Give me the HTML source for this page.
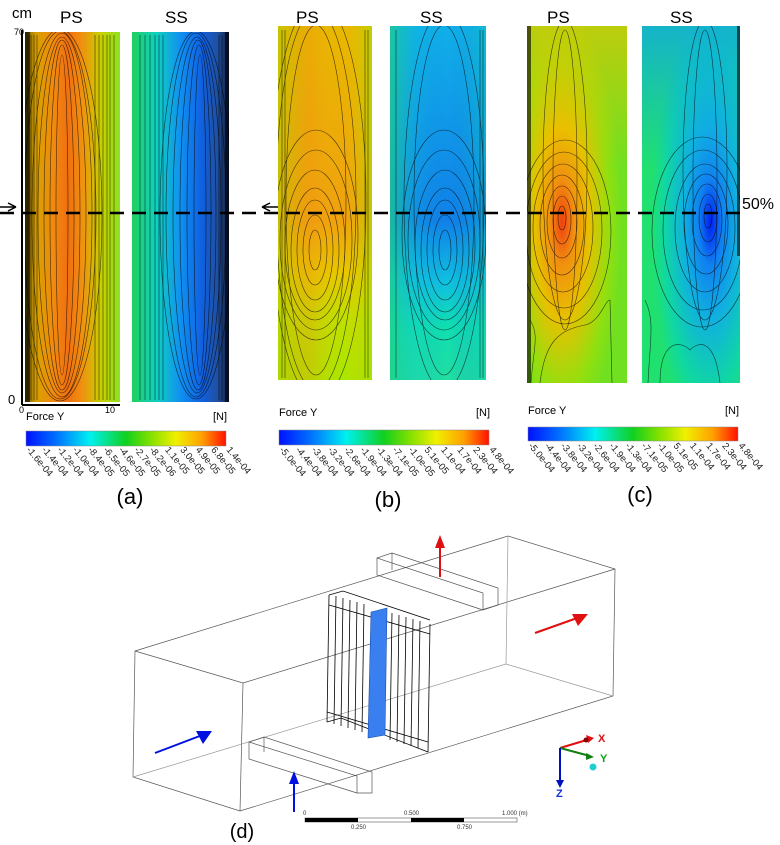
<!DOCTYPE html>
<html><head><meta charset="utf-8"><style>
html,body{margin:0;padding:0;background:#fff;}
svg{display:block;font-family:"Liberation Sans",sans-serif;}
</style></head><body>
<svg width="780" height="845" viewBox="0 0 780 845" xmlns="http://www.w3.org/2000/svg">
<defs>
<linearGradient id="cb" x1="0" x2="1" y1="0" y2="0">
<stop offset="0" stop-color="#0010ff"/><stop offset="0.15" stop-color="#0070ff"/><stop offset="0.32" stop-color="#00f0f0"/><stop offset="0.5" stop-color="#10d020"/><stop offset="0.62" stop-color="#80e000"/><stop offset="0.75" stop-color="#f0f000"/><stop offset="0.88" stop-color="#ffa000"/><stop offset="1" stop-color="#ff1000"/>
</linearGradient>
<linearGradient id="aPS" x1="0" x2="1"><stop offset="0" stop-color="#6a5a00"/><stop offset="0.12" stop-color="#d8a000"/><stop offset="0.3" stop-color="#f08a10"/><stop offset="0.45" stop-color="#f07010"/><stop offset="0.6" stop-color="#f09010"/><stop offset="0.8" stop-color="#c8d000"/><stop offset="1" stop-color="#90e020"/></linearGradient>
<linearGradient id="aSS" x1="0" x2="1"><stop offset="0" stop-color="#20d060"/><stop offset="0.25" stop-color="#10d0c0"/><stop offset="0.5" stop-color="#1090f0"/><stop offset="0.72" stop-color="#1060e0"/><stop offset="0.88" stop-color="#2050a0"/><stop offset="1" stop-color="#102040"/></linearGradient>
<linearGradient id="bPSv" x1="0" x2="0" y1="0" y2="1"><stop offset="0" stop-color="#e8b800"/><stop offset="0.55" stop-color="#f0a010"/><stop offset="0.7" stop-color="#e8c800"/><stop offset="0.82" stop-color="#c0e000"/><stop offset="1" stop-color="#a8e800"/></linearGradient>
<linearGradient id="bPSh" x1="0" x2="1"><stop offset="0" stop-color="#b0d000" stop-opacity="0.6"/><stop offset="0.35" stop-color="#f09010" stop-opacity="0.3"/><stop offset="0.7" stop-color="#e8c000" stop-opacity="0"/><stop offset="1" stop-color="#a0e000" stop-opacity="0.6"/></linearGradient>
<linearGradient id="bSSv" x1="0" x2="0" y1="0" y2="1"><stop offset="0" stop-color="#10b0e8"/><stop offset="0.55" stop-color="#1080e8"/><stop offset="0.72" stop-color="#10c0e0"/><stop offset="0.85" stop-color="#10e0b0"/><stop offset="1" stop-color="#20e0a0"/></linearGradient>
<linearGradient id="bSSh" x1="0" x2="1"><stop offset="0" stop-color="#20d080" stop-opacity="0.7"/><stop offset="0.3" stop-color="#10c0d0" stop-opacity="0.2"/><stop offset="0.6" stop-color="#1070e0" stop-opacity="0"/><stop offset="1" stop-color="#10d0b0" stop-opacity="0.4"/></linearGradient>
<radialGradient id="cPS" cx="0.35" cy="0.55" r="0.6"><stop offset="0" stop-color="#f04010"/><stop offset="0.2" stop-color="#f09010"/><stop offset="0.45" stop-color="#e8c000"/><stop offset="0.8" stop-color="#90e010"/><stop offset="1" stop-color="#70e020"/></radialGradient>
<radialGradient id="cSS" cx="0.7" cy="0.55" r="0.6"><stop offset="0" stop-color="#0020f0"/><stop offset="0.2" stop-color="#1080f0"/><stop offset="0.45" stop-color="#10b0e0"/><stop offset="0.8" stop-color="#10d8a0"/><stop offset="1" stop-color="#20e070"/></radialGradient>
<linearGradient id="cPSv" x1="0" x2="0" y1="0" y2="1"><stop offset="0" stop-color="#f0c000" stop-opacity="0.6"/><stop offset="0.4" stop-color="#f0c000" stop-opacity="0"/></linearGradient>
<linearGradient id="cSSv" x1="0" x2="0" y1="0" y2="1"><stop offset="0" stop-color="#10a0f0" stop-opacity="0.7"/><stop offset="0.4" stop-color="#10a0f0" stop-opacity="0"/></linearGradient>
<clipPath id="kaP"><rect x="25" y="32" width="95" height="370"/></clipPath>
<clipPath id="kaS"><rect x="132" y="32" width="97" height="370"/></clipPath>
<clipPath id="kbP"><rect x="278" y="26" width="94" height="354"/></clipPath>
<clipPath id="kbS"><rect x="390" y="26" width="96" height="354"/></clipPath>
<clipPath id="kcP"><rect x="527" y="26" width="100" height="357"/></clipPath>
<clipPath id="kcS"><rect x="642" y="26" width="98" height="357"/></clipPath>
</defs>

<!-- Panel (a) -->
<text x="12" y="18" font-size="15">cm</text>
<text x="14" y="35" font-size="9">70</text>
<text x="8" y="404" font-size="13">0</text>
<line x1="22" y1="30" x2="22" y2="405" stroke="#000" stroke-width="2"/>
<line x1="22" y1="405" x2="120" y2="405" stroke="#000" stroke-width="2"/>
<text x="19" y="413" font-size="9">0</text><text x="105" y="413" font-size="9">10</text>
<text x="60" y="23" font-size="17">PS</text><text x="165" y="23" font-size="17">SS</text>
<rect x="25" y="32" width="95" height="370" fill="url(#aPS)"/>
<rect x="132" y="32" width="97" height="370" fill="url(#aSS)"/>
<g fill="none" stroke="#000" stroke-width="0.6" opacity="0.7" clip-path="url(#kaP)">
<ellipse cx="62" cy="215" rx="6" ry="160"/><ellipse cx="62" cy="215" rx="12" ry="170"/><ellipse cx="62" cy="215" rx="18" ry="175"/><ellipse cx="62" cy="215" rx="24" ry="178"/><ellipse cx="62" cy="215" rx="30" ry="182"/><ellipse cx="60" cy="215" rx="36" ry="184"/><ellipse cx="60" cy="215" rx="42" ry="186"/>
<line x1="28" y1="35" x2="28" y2="400"/><line x1="31" y1="35" x2="31" y2="400"/><line x1="34" y1="35" x2="34" y2="400"/><line x1="37" y1="35" x2="37" y2="400"/><line x1="95" y1="35" x2="95" y2="400"/><line x1="99" y1="35" x2="99" y2="400"/><line x1="103" y1="35" x2="103" y2="400"/><line x1="107" y1="35" x2="107" y2="400"/><line x1="110" y1="35" x2="110" y2="400"/><line x1="114" y1="35" x2="114" y2="400"/>
</g>
<g fill="none" stroke="#000" stroke-width="0.6" opacity="0.7" clip-path="url(#kaS)">
<ellipse cx="200" cy="215" rx="6" ry="160"/><ellipse cx="199" cy="215" rx="12" ry="170"/><ellipse cx="198" cy="215" rx="18" ry="175"/><ellipse cx="197" cy="215" rx="24" ry="178"/><ellipse cx="196" cy="215" rx="30" ry="182"/><ellipse cx="196" cy="215" rx="36" ry="184"/>
<line x1="140" y1="35" x2="140" y2="400"/><line x1="145" y1="35" x2="145" y2="400"/><line x1="150" y1="35" x2="150" y2="400"/><line x1="155" y1="35" x2="155" y2="400"/><line x1="159" y1="35" x2="159" y2="400"/><line x1="163" y1="35" x2="163" y2="400"/><line x1="219" y1="35" x2="219" y2="400"/><line x1="222" y1="35" x2="222" y2="400"/>
</g>
<rect x="25" y="32" width="5" height="370" fill="#000" opacity="0.6"/>
<rect x="225" y="32" width="4" height="370" fill="#000" opacity="0.6"/>

<!-- Panel (b) -->
<text x="296" y="23" font-size="17">PS</text><text x="420" y="23" font-size="17">SS</text>
<rect x="278" y="26" width="94" height="354" fill="url(#bPSv)"/>
<rect x="278" y="26" width="94" height="354" fill="url(#bPSh)"/>
<rect x="390" y="26" width="96" height="354" fill="url(#bSSv)"/>
<rect x="390" y="26" width="96" height="354" fill="url(#bSSh)"/>
<g fill="none" stroke="#000" stroke-width="0.6" opacity="0.7" clip-path="url(#kbP)">
<ellipse cx="315" cy="250" rx="6" ry="20"/><ellipse cx="315" cy="250" rx="12" ry="35"/><ellipse cx="315" cy="250" rx="18" ry="50"/><ellipse cx="315" cy="250" rx="24" ry="62"/><ellipse cx="315" cy="245" rx="30" ry="75"/><ellipse cx="316" cy="240" rx="36" ry="90"/><ellipse cx="316" cy="235" rx="42" ry="105"/><ellipse cx="316" cy="200" rx="30" ry="175"/><ellipse cx="316" cy="200" rx="40" ry="190"/><ellipse cx="318" cy="200" rx="48" ry="200"/>
<line x1="282" y1="30" x2="282" y2="378"/><line x1="285" y1="30" x2="285" y2="378"/><line x1="365" y1="30" x2="365" y2="378"/><line x1="368" y1="30" x2="368" y2="378"/>
</g>
<g fill="none" stroke="#000" stroke-width="0.6" opacity="0.7" clip-path="url(#kbS)">
<ellipse cx="445" cy="250" rx="6" ry="20"/><ellipse cx="445" cy="250" rx="12" ry="35"/><ellipse cx="445" cy="250" rx="18" ry="50"/><ellipse cx="445" cy="250" rx="24" ry="62"/><ellipse cx="445" cy="245" rx="30" ry="75"/><ellipse cx="444" cy="240" rx="36" ry="90"/><ellipse cx="444" cy="235" rx="42" ry="105"/><ellipse cx="444" cy="200" rx="30" ry="175"/><ellipse cx="444" cy="200" rx="40" ry="190"/>
<line x1="396" y1="30" x2="396" y2="378"/><line x1="480" y1="30" x2="480" y2="378"/><line x1="483" y1="30" x2="483" y2="378"/>
</g>

<!-- Panel (c) -->
<text x="547" y="23" font-size="17">PS</text><text x="670" y="23" font-size="17">SS</text>
<rect x="527" y="26" width="100" height="357" fill="url(#cPS)"/>
<rect x="527" y="26" width="100" height="357" fill="url(#cPSv)"/>
<rect x="642" y="26" width="98" height="357" fill="url(#cSS)"/>
<rect x="642" y="26" width="98" height="357" fill="url(#cSSv)"/>
<g fill="none" stroke="#000" stroke-width="0.6" opacity="0.7" clip-path="url(#kcP)">
<ellipse cx="562" cy="218" rx="4" ry="12"/><ellipse cx="562" cy="220" rx="9" ry="24"/><ellipse cx="562" cy="222" rx="15" ry="36"/><ellipse cx="562" cy="225" rx="22" ry="50"/><ellipse cx="563" cy="228" rx="30" ry="64"/><ellipse cx="564" cy="230" rx="38" ry="78"/><ellipse cx="565" cy="232" rx="46" ry="92"/><ellipse cx="565" cy="180" rx="12" ry="150"/><ellipse cx="565" cy="170" rx="22" ry="150"/>
<path d="M540 383 C545 340 560 330 585 325 C600 322 605 300 610 300 L612 383"/>
<path d="M531 383 C533 350 540 335 530 320"/>
</g>
<g fill="none" stroke="#000" stroke-width="0.6" opacity="0.7" clip-path="url(#kcS)">
<ellipse cx="708" cy="216" rx="4" ry="12"/><ellipse cx="708" cy="218" rx="9" ry="24"/><ellipse cx="707" cy="220" rx="15" ry="36"/><ellipse cx="706" cy="224" rx="22" ry="50"/><ellipse cx="705" cy="228" rx="30" ry="64"/><ellipse cx="703" cy="230" rx="40" ry="80"/><ellipse cx="702" cy="232" rx="50" ry="95"/><ellipse cx="705" cy="180" rx="12" ry="150"/><ellipse cx="705" cy="170" rx="22" ry="150"/>
<path d="M660 383 C660 340 680 340 690 350 C700 340 715 340 720 383"/>
<path d="M648 383 C650 340 655 320 645 300"/>
</g>
<rect x="527" y="26" width="4" height="357" fill="#000" opacity="0.6"/>
<rect x="737" y="26" width="3" height="230" fill="#000" opacity="0.6"/>

<!-- dashed line -->
<line x1="0" y1="213" x2="740" y2="213" stroke="#000" stroke-width="2.5" stroke-dasharray="14,8"/>
<text x="742" y="209" font-size="16">50%</text>
<path d="M0 207 L16 207 M16 207 L8 203 M16 207 L8 211" stroke="#000" stroke-width="1.5" fill="none"/>
<path d="M262 207 L278 207 M262 207 L270 203 M262 207 L270 211" stroke="#000" stroke-width="1.5" fill="none"/>

<!-- colorbars -->
<text x="26" y="420" font-size="11">Force Y</text><text x="213" y="420" font-size="11">[N]</text>
<rect x="26" y="431" width="200" height="15" fill="url(#cb)" stroke="#888" stroke-width="0.5"/>
<text x="279" y="416" font-size="11">Force Y</text><text x="476" y="416" font-size="11">[N]</text>
<rect x="279" y="430" width="210" height="15" fill="url(#cb)" stroke="#888" stroke-width="0.5"/>
<text x="528" y="414" font-size="11">Force Y</text><text x="725" y="414" font-size="11">[N]</text>
<rect x="528" y="427" width="210" height="14" fill="url(#cb)" stroke="#888" stroke-width="0.5"/>
<g font-size="9.5" fill="#222">
<g transform="translate(26,450)">
<text transform="translate(0,0) rotate(50)">-1.6e-04</text><text transform="translate(15.4,0) rotate(50)">-1.4e-04</text><text transform="translate(30.8,0) rotate(50)">-1.2e-04</text><text transform="translate(46.2,0) rotate(50)">-1.0e-04</text><text transform="translate(61.5,0) rotate(50)">-8.4e-05</text><text transform="translate(76.9,0) rotate(50)">-6.5e-05</text><text transform="translate(92.3,0) rotate(50)">-4.6e-05</text><text transform="translate(107.7,0) rotate(50)">-2.7e-05</text><text transform="translate(123,0) rotate(50)">-8.2e-06</text><text transform="translate(138.5,0) rotate(50)">1.1e-05</text><text transform="translate(153.8,0) rotate(50)">3.0e-05</text><text transform="translate(169.2,0) rotate(50)">4.9e-05</text><text transform="translate(184.6,0) rotate(50)">6.8e-05</text><text transform="translate(200,0) rotate(50)">1.4e-04</text>
</g>
<g transform="translate(279,450)">
<text transform="translate(0,0) rotate(50)">-5.0e-04</text><text transform="translate(16.2,0) rotate(50)">-4.4e-04</text><text transform="translate(32.3,0) rotate(50)">-3.8e-04</text><text transform="translate(48.5,0) rotate(50)">-3.2e-04</text><text transform="translate(64.6,0) rotate(50)">-2.6e-04</text><text transform="translate(80.8,0) rotate(50)">-1.9e-04</text><text transform="translate(96.9,0) rotate(50)">-1.3e-04</text><text transform="translate(113,0) rotate(50)">-7.1e-05</text><text transform="translate(129,0) rotate(50)">-1.0e-05</text><text transform="translate(145,0) rotate(50)">5.1e-05</text><text transform="translate(161.5,0) rotate(50)">1.1e-04</text><text transform="translate(177.7,0) rotate(50)">1.7e-04</text><text transform="translate(193.8,0) rotate(50)">2.3e-04</text><text transform="translate(210,0) rotate(50)">4.8e-04</text>
</g>
<g transform="translate(528,446)">
<text transform="translate(0,0) rotate(50)">-5.0e-04</text><text transform="translate(16.2,0) rotate(50)">-4.4e-04</text><text transform="translate(32.3,0) rotate(50)">-3.8e-04</text><text transform="translate(48.5,0) rotate(50)">-3.2e-04</text><text transform="translate(64.6,0) rotate(50)">-2.6e-04</text><text transform="translate(80.8,0) rotate(50)">-1.9e-04</text><text transform="translate(96.9,0) rotate(50)">-1.3e-04</text><text transform="translate(113,0) rotate(50)">-7.1e-05</text><text transform="translate(129,0) rotate(50)">-1.0e-05</text><text transform="translate(145,0) rotate(50)">5.1e-05</text><text transform="translate(161.5,0) rotate(50)">1.1e-04</text><text transform="translate(177.7,0) rotate(50)">1.7e-04</text><text transform="translate(193.8,0) rotate(50)">2.3e-04</text><text transform="translate(210,0) rotate(50)">4.8e-04</text>
</g>
</g>
<text x="130" y="504" font-size="22" text-anchor="middle">(a)</text>
<text x="388" y="507" font-size="22" text-anchor="middle">(b)</text>
<text x="640" y="502" font-size="22" text-anchor="middle">(c)</text>

<!-- Panel (d) -->
<g stroke="#555" stroke-width="0.7" fill="none">
<path d="M135 651 L508 536 L615 569 L613 696 L240 811 L133 777 Z"/>
<path d="M135 651 L243 683 L615 569"/>
<path d="M243 683 L240 811"/>
<path d="M508 536 L506 664 L133 777" stroke="#999"/>
<path d="M506 664 L613 696" stroke="#999"/>
<path d="M377 558 L392 553 L498 588 L498 605 L483 610 L483 593 L377 558 L377 575 L483 610"/>
<path d="M392 553 L392 570"/>
<path d="M249 742 L264 737 L372 772 L372 793 L357 793 L357 776 L249 742 L249 759 L357 793"/>
<path d="M264 737 L264 752"/>
</g>
<g stroke="#000" stroke-width="0.8" fill="none">
<path d="M329 595 L327 722 M336 596 L334 724 M343 598 L341 726 M350 600 L348 728 M357 602 L355 730 M364 604 L362 732 M392 613 L390 740 M399 615 L397 742 M406 617 L404 744 M413 619 L411 746 M420 621 L418 748 M430 624 L428 752"/>
<path d="M329 595 L343 591 L430 620 M327 722 L341 718 L428 752 M329 605 L430 634 M327 712 L428 742"/>
</g>
<polygon points="371,612 387,608 385,735 368,738" fill="#3a7ff0" stroke="#1a4fb0" stroke-width="0.6"/>
<g stroke-width="2" fill="none">
<path d="M155 753 L205 734" stroke="#0010e0"/>
<path d="M294 812 L294 778" stroke="#0010e0"/>
<path d="M440 577 L440 543" stroke="#e01010"/>
<path d="M535 633 L580 617" stroke="#e01010"/>
</g>
<polygon points="212,731 196,731 203,744" fill="#0010e0"/>
<polygon points="294,771 289,784 299,784" fill="#0010e0"/>
<polygon points="440,535 435,548 445,548" fill="#e01010"/>
<polygon points="588,614 572,614 578,626" fill="#e01010"/>
<path d="M560 748 L590 739" stroke="#e01010" stroke-width="2"/>
<polygon points="594,738 586,735 588,743" fill="#e01010"/>
<circle cx="586" cy="740" r="2.5" fill="#800"/>
<path d="M560 748 L590 756" stroke="#108010" stroke-width="2"/>
<polygon points="594,757 586,753 586,760" fill="#108010"/>
<path d="M560 748 L560 783" stroke="#0010c0" stroke-width="2"/>
<polygon points="560,788 556,780 564,780" fill="#0010c0"/>
<circle cx="593" cy="767" r="3.5" fill="#20d0d0"/>
<text x="598" y="742" font-size="11" fill="#e01010" font-weight="bold">X</text>
<text x="600" y="762" font-size="11" fill="#10a010" font-weight="bold">Y</text>
<text x="556" y="797" font-size="11" fill="#1030e0" font-weight="bold">Z</text>
<rect x="305" y="818" width="212" height="4" fill="#fff" stroke="#555" stroke-width="0.6"/>
<rect x="305" y="818" width="53" height="4" fill="#000"/>
<rect x="411" y="818" width="53" height="4" fill="#000"/>
<g font-size="6" fill="#333">
<text x="303" y="815">0</text><text x="404" y="815">0.500</text><text x="502" y="815">1.000  (m)</text>
<text x="351" y="829">0.250</text><text x="457" y="829">0.750</text>
</g>
<text x="242" y="838" font-size="20" text-anchor="middle">(d)</text>
</svg>
</body></html>
